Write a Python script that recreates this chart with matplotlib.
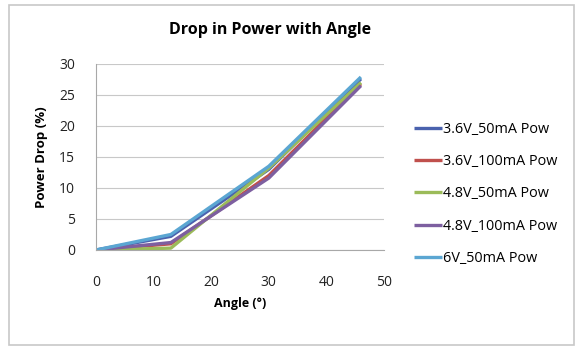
import matplotlib.pyplot as plt
from matplotlib.patches import Rectangle

plt.rcParams['font.family'] = ['Open Sans', 'DejaVu Sans']

# Data
angles = [0, 13, 30, 46]
series_names = ['3.6V_50mA Pow', '3.6V_100mA Pow', '4.8V_50mA Pow',
                '4.8V_100mA Pow', '6V_50mA Pow']
drop_36v_50 = [0, 2.2, 13.0, 27.6]
drop_36v_100 = [0, 1.0, 12.0, 26.8]
drop_48v_50 = [0, 0.3, 13.2, 27.0]
drop_48v_100 = [0, 1.2, 11.6, 26.5]
drop_6v_50 = [0, 2.5, 13.5, 27.9]
x_ticks = [0, 10, 20, 30, 40, 50]
y_ticks = [0, 5, 10, 15, 20, 25, 30]

colors = ['#4A62AE', '#C0504D', '#9BBB59', '#7D5FA0', '#5BA6D2']
all_drops = [drop_36v_50, drop_36v_100, drop_48v_50, drop_48v_100, drop_6v_50]

fig = plt.figure(figsize=(5.8, 3.49), dpi=100)
fig.patches.append(Rectangle((0.015, 0.012), 0.975, 0.975, transform=fig.transFigure,
                             fill=False, edgecolor='#c8c8c8', linewidth=1.2))
ax = fig.add_axes([0.1655, 0.2837, 0.4965, 0.533])

for name, vals, c in zip(series_names, all_drops, colors):
    ax.plot(angles, vals, color=c, linewidth=2.4, label=name, solid_capstyle='butt')

ax.set_xlim(0, 50)
ax.set_ylim(0, 30)
ax.set_xticks(x_ticks)
ax.set_yticks(y_ticks)
ax.yaxis.grid(True, color='#c8c8c8', linewidth=0.8)
ax.set_axisbelow(True)
for s in ['top', 'right']:
    ax.spines[s].set_visible(False)
for s in ['left', 'bottom']:
    ax.spines[s].set_color('#a8a8a8')
ax.tick_params(axis='both', length=0, labelsize=10, colors='#222222')
ax.tick_params(axis='x', pad=18)
ax.tick_params(axis='y', pad=15)

ax.set_xlabel('Angle (°)', fontsize=9, fontweight='bold', labelpad=5)
ax.set_ylabel('Power Drop (%)', fontsize=9.5, fontweight='bold', labelpad=8)
fig.text(0.465, 0.913, 'Drop in Power with Angle', ha='center', va='center',
         fontsize=11.5, fontweight='bold')

ax.legend(loc='upper left', bbox_to_anchor=(1.06, 0.76), frameon=False,
          fontsize=10.4, handlelength=1.9, handletextpad=0.1, labelspacing=1.2)

fig.savefig('out.png', dpi=100)
